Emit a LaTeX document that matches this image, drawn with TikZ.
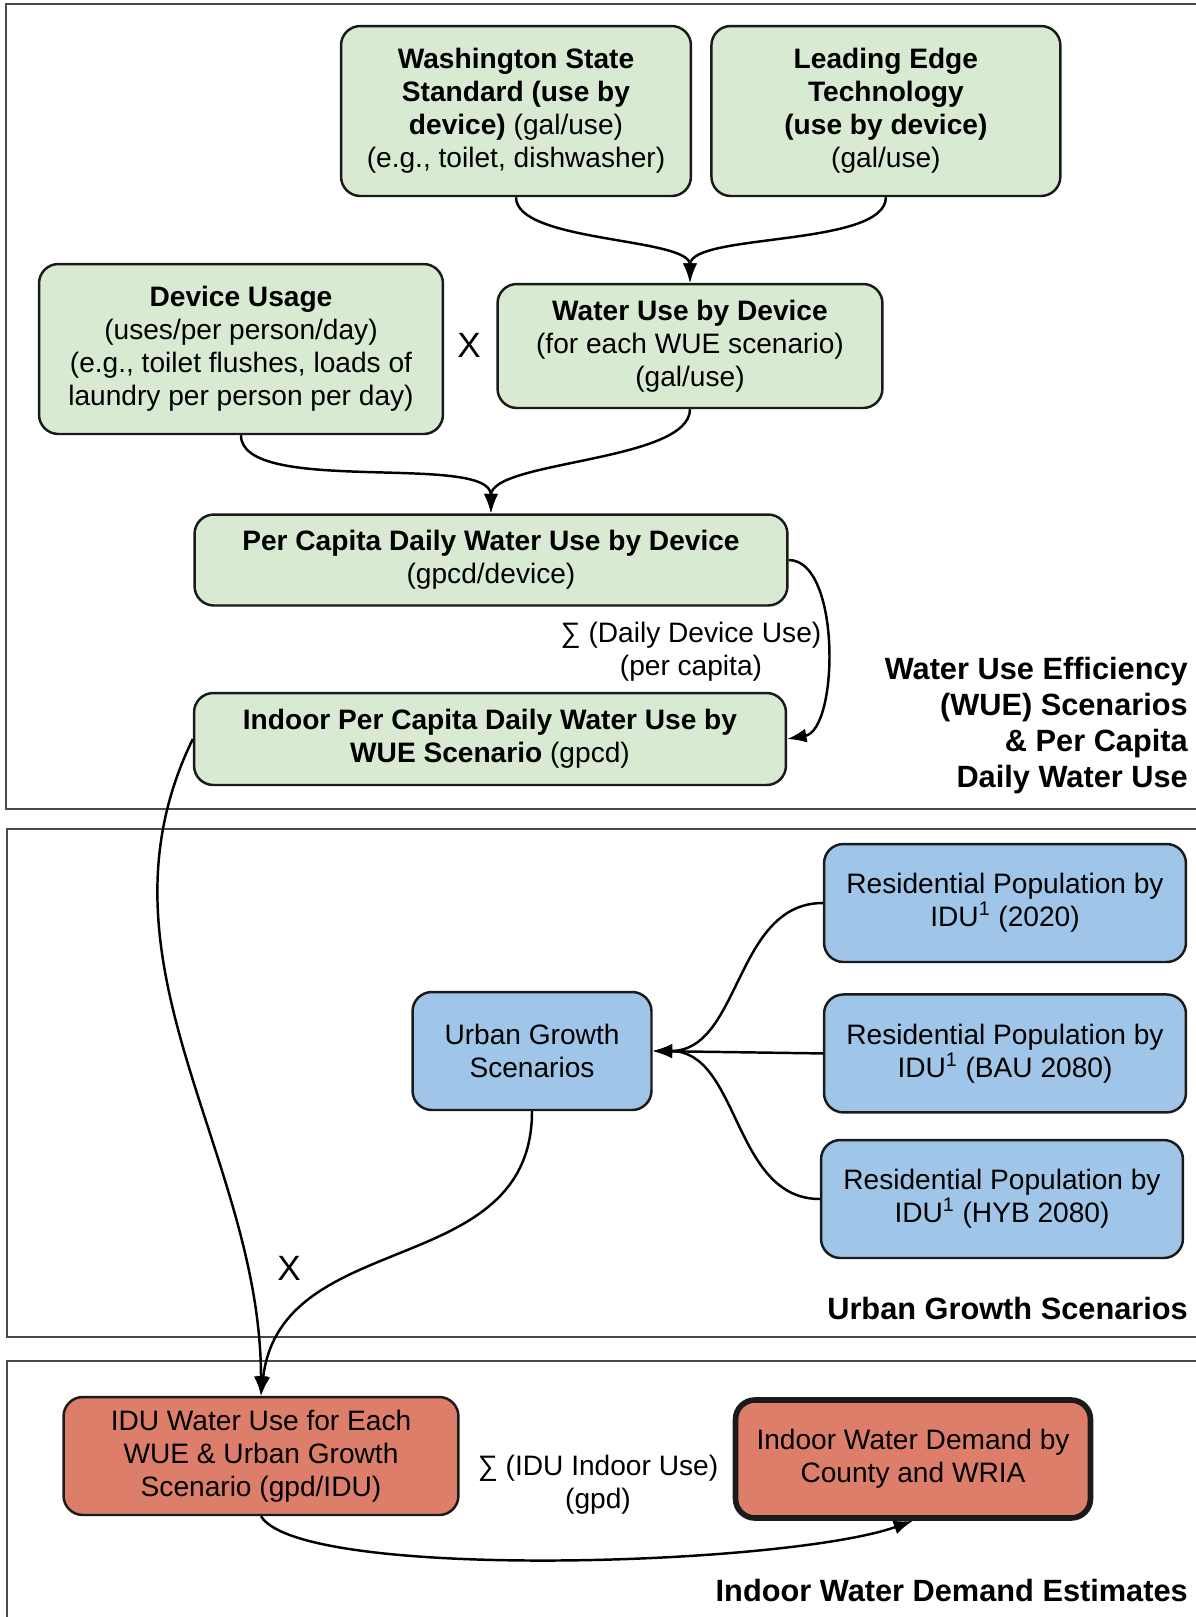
\documentclass[tikz,border=0pt]{standalone}
\usepackage{fontspec}
\setmainfont{Liberation Sans}
\usepackage{xcolor}
\usepackage{tikz}
\usetikzlibrary{arrows.meta, positioning}
\definecolor{wuegreen}{HTML}{D9EAD3}
\definecolor{ugblue}{HTML}{9FC5E8}
\definecolor{idured}{HTML}{DD7E6B}
\definecolor{boxline}{HTML}{1A1A1A}
\definecolor{framegray}{HTML}{4A4A4A}

\begin{document}
\begin{tikzpicture}[
    x=0.02cm, y=0.02cm,
    font=\fontsize{16}{18.8}\selectfont,
    box/.style={rectangle, draw=boxline, line width=1.4pt, rounded corners=11pt, align=center, inner sep=2pt},
    greenbox/.style={box, fill=wuegreen},
    bluebox/.style={box, fill=ugblue, minimum width=7.24cm, minimum height=2.36cm},
    redbox/.style={box, fill=idured, minimum height=2.36cm},
    arrow/.style={-{Latex[length=11pt, width=8pt]}, line width=1.4pt},
    panel/.style={draw=framegray, line width=1.2pt},
    paneltitle/.style={anchor=east, align=right, font=\fontsize{17.5}{20.5}\selectfont\bfseries}
]
    \useasboundingbox (0,0) rectangle (1196,-1617);

    % panels
    \draw[panel] (1200,-4) -- (6,-4) -- (6,-809) -- (1200,-809);
    \draw[panel] (1200,-829) -- (7,-829) -- (7,-1337) -- (1200,-1337);
    \draw[panel] (1200,-1361) -- (7,-1361) -- (7,-1625);

    % water use efficiency
    \node[greenbox, minimum width=7cm, minimum height=3.4cm] (wa) at (516,-111) {\textbf{Washington State}\\\textbf{Standard (use by}\\\textbf{device)} (gal/use)\\(e.g., toilet, dishwasher)};
    \node[greenbox, minimum width=6.98cm, minimum height=3.4cm, right=0.36cm of wa] (le) {\textbf{Leading Edge}\\\textbf{Technology}\\\textbf{(use by device)}\\(gal/use)};
    \node[greenbox, minimum width=8.08cm, minimum height=3.4cm] (du) at (241,-349) {\textbf{Device Usage}\\(uses/per person/day)\\(e.g., toilet flushes, loads of\\laundry per person per day)};
    \node[greenbox, minimum width=7.7cm, minimum height=2.48cm] (wud) at (690,-346) {\textbf{Water Use by Device}\\(for each WUE scenario)\\(gal/use)};
    \node[greenbox, minimum width=11.86cm, minimum height=1.82cm] (pcd) at (491,-560) {\textbf{Per Capita Daily Water Use by Device}\\(gpcd/device)};
    \node[greenbox, minimum width=11.84cm, minimum height=1.84cm] (ipc) at (490,-739) {\textbf{Indoor Per Capita Daily Water Use by}\\\textbf{WUE Scenario} (gpcd)};
    \node[font=\fontsize{20}{22}\selectfont] (xdev) at (469,-345) {X};
    \node[align=center] (sumdev) at (691,-652) {∑ (Daily Device Use)\\(per capita)};
    \node[paneltitle] (wuetitle) at (1194,-726) {Water Use Efficiency\\(WUE) Scenarios\\\& Per Capita\\Daily Water Use};

    % urban growth
    \node[bluebox] (pop2020) at (1005,-903) {Residential Population by\\IDU\textsuperscript{1} (2020)};
    \node[bluebox, below=0.6cm of pop2020] (popbau) {Residential Population by\\IDU\textsuperscript{1} (BAU 2080)};
    \node[bluebox] (pophyb) at (1002,-1199) {Residential Population by\\IDU\textsuperscript{1} (HYB 2080)};
    \node[bluebox, minimum width=4.78cm] (ugs) at (532,-1051) {Urban Growth\\Scenarios};
    \node[font=\fontsize{20}{22}\selectfont] (xugs) at (289,-1268) {X};
    \node[paneltitle] (ugstitle) at (1194,-1308) {Urban Growth Scenarios};

    % indoor demand
    \node[redbox, minimum width=7.9cm] (idu) at (261,-1456) {IDU Water Use for Each\\WUE \& Urban Growth\\Scenario (gpd/IDU)};
    \node[redbox, minimum width=7.1cm, line width=3.2pt] (iwd) at (913,-1459) {Indoor Water Demand by\\County and WRIA};
    \node[align=center] (sumidu) at (598,-1485) {∑ (IDU Indoor Use)\\(gpd)};
    \node[paneltitle] (iwdtitle) at (1194,-1590) {Indoor Water Demand Estimates};

    \draw[arrow] (wa.south) to[out=-90, in=90, looseness=0.6] (wud.north);
    \draw[arrow] (le.south) to[out=-90, in=90, looseness=0.6] (wud.north);
    \draw[arrow] (du.south) to[out=-90, in=90, looseness=0.6] (pcd.north);
    \draw[arrow] (wud.south) to[out=-90, in=90, looseness=0.6] (pcd.north);
    \draw[arrow] (pcd.east) to[out=0, in=10, looseness=0.75] (ipc.east);
    \draw[arrow] (ipc.west) .. controls +(-109,-223) and +(0,243) .. (idu.north);
    \draw[arrow] (ugs.south) .. controls +(0,-170) and +(20,170) .. (idu.north);
    \draw[arrow] (pop2020.west) to[out=180, in=0] (ugs.east);
    \draw[arrow] (popbau.west) -- (ugs.east);
    \draw[arrow] (pophyb.west) to[out=180, in=0] (ugs.east);
    \draw[arrow] (idu.south) .. controls +(40,-65) and +(-127,-45) .. (iwd.south);
\end{tikzpicture}
\end{document}
